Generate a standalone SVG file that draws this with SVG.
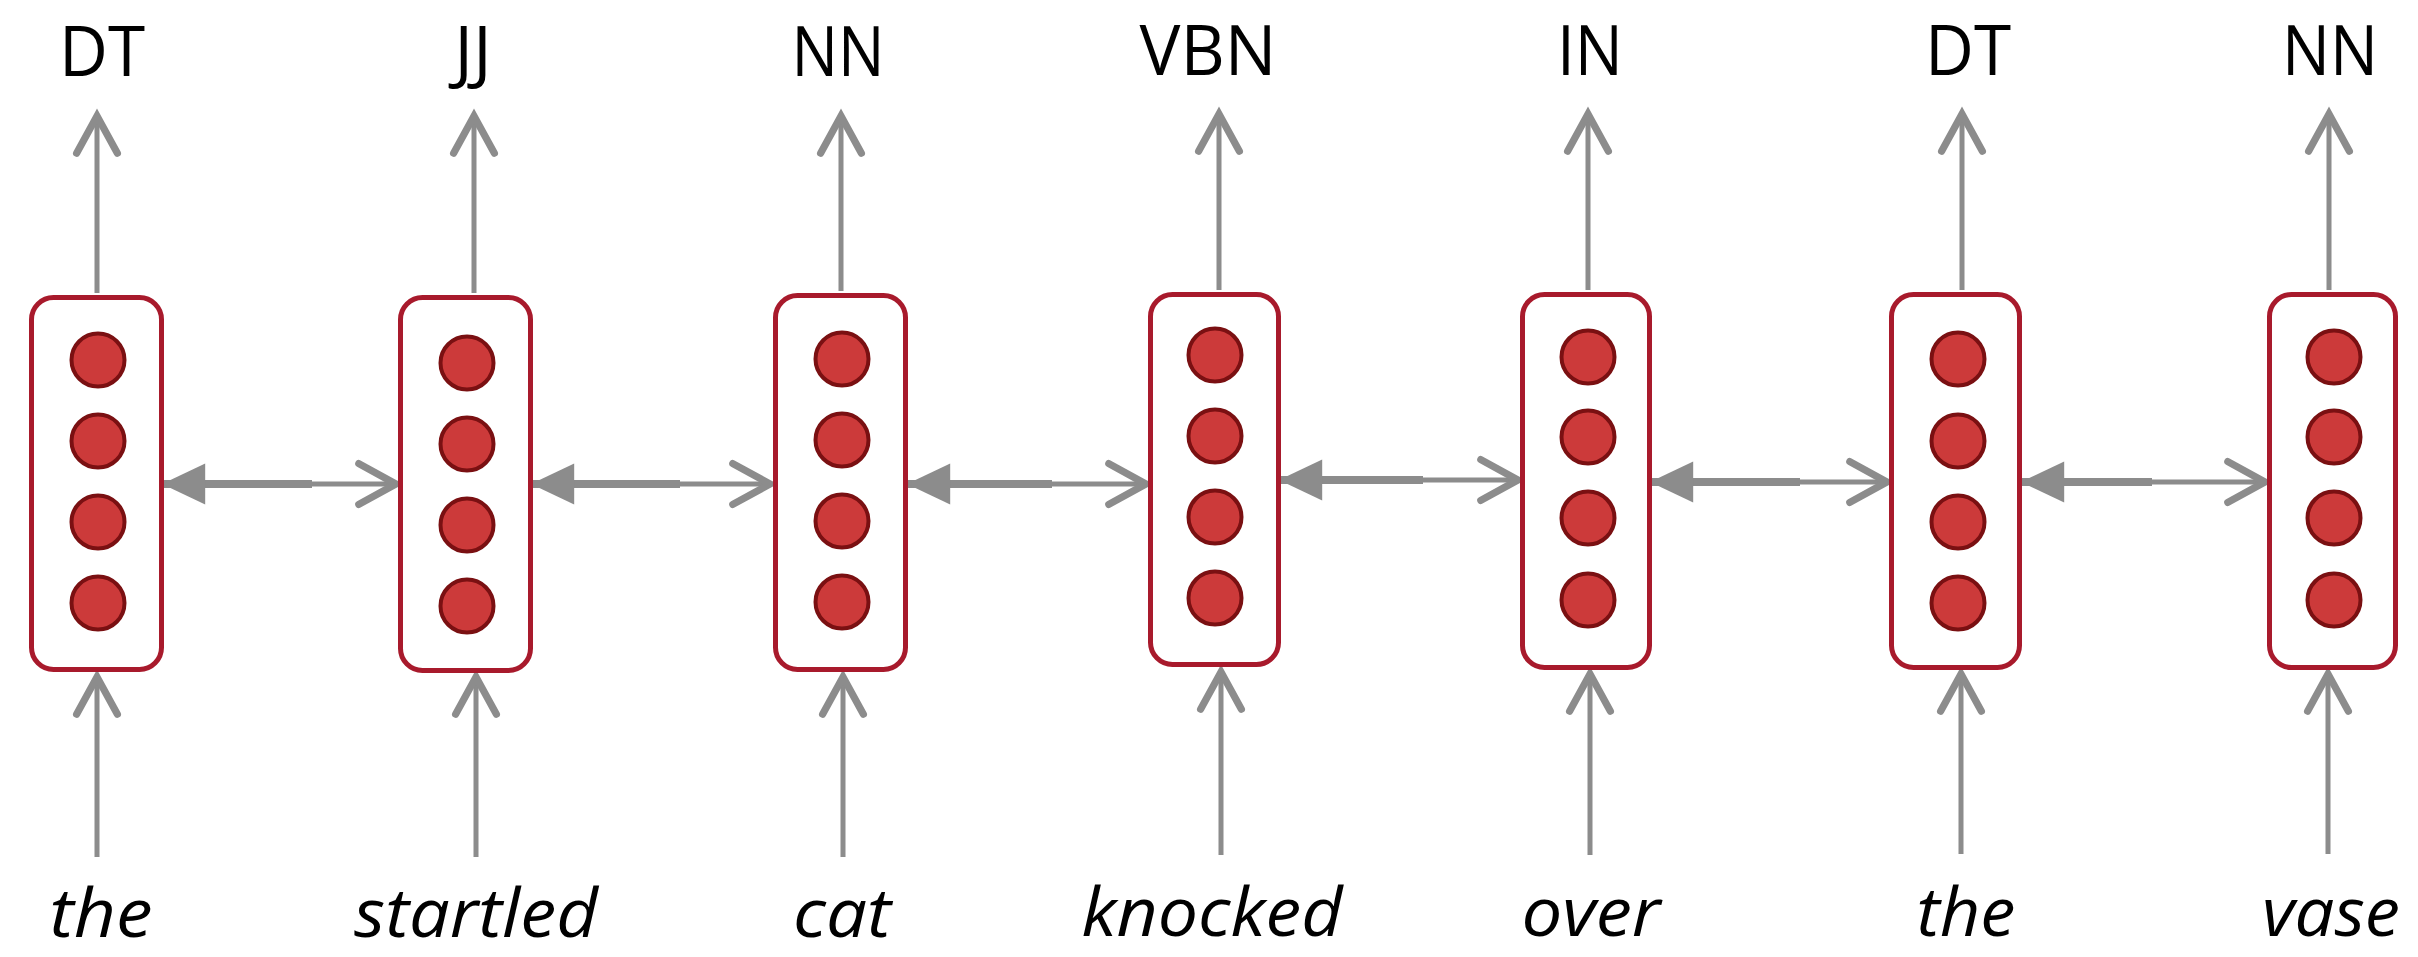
<svg xmlns="http://www.w3.org/2000/svg" width="2418" height="957" viewBox="0 0 2418 957">
<style>
.box{fill:#fff;stroke:#a81a2c;stroke-width:5}
.unit{fill:#cc3a3a;stroke:#7a1012;stroke-width:4}
.tag{font-family:"Open Sans","Liberation Sans",sans-serif;font-size:70px;fill:#000;text-anchor:middle}
.word{font-family:"Open Sans","Liberation Sans",sans-serif;font-size:68px;font-style:italic;fill:#000;text-anchor:middle}
.v{fill:none;stroke:#8c8c8c;stroke-width:5;marker-end:url(#open)}
.thick{fill:none;stroke:#8c8c8c;stroke-width:8;marker-start:url(#solid)}
.thin{fill:none;stroke:#8c8c8c;stroke-width:5;marker-end:url(#open)}
</style>
<defs>
<marker id="open" markerUnits="userSpaceOnUse" markerWidth="60" markerHeight="60" viewBox="-40 -25 50 50" refX="0" refY="0" orient="auto" overflow="visible">
<path d="M -31 -17 L 0 0 L -31 17" fill="none" stroke="#8c8c8c" stroke-width="6" stroke-linejoin="miter" stroke-linecap="round"/>
</marker>
<marker id="solid" markerUnits="userSpaceOnUse" markerWidth="60" markerHeight="60" viewBox="-40 -25 50 50" refX="0" refY="0" orient="auto-start-reverse" overflow="visible">
<path d="M 0 0 L -36 -17 L -36 17 Z" fill="#8c8c8c"/>
</marker>
</defs>
<rect width="2418" height="957" fill="#fff"/>

<g id="connectors">
<path class="v" d="M97 293 V116"/>
<path class="v" d="M474 293 V116"/>
<path class="v" d="M841 291 V116"/>
<path class="v" d="M1219 290 V114"/>
<path class="v" d="M1588 290 V114"/>
<path class="v" d="M1962 290 V114"/>
<path class="v" d="M2329 290 V114"/>

<path class="v" d="M97 857 V677"/>
<path class="v" d="M476 857 V677"/>
<path class="v" d="M843 857 V677"/>
<path class="v" d="M1221 855 V672"/>
<path class="v" d="M1590 855 V674"/>
<path class="v" d="M1961 854 V674"/>
<path class="v" d="M2328 854 V674"/>

<path class="thick" d="M162 484 H312"/><path class="thin" d="M312 484 H396"/>
<path class="thick" d="M531 484 H680"/><path class="thin" d="M680 484 H770"/>
<path class="thick" d="M907 484 H1052"/><path class="thin" d="M1052 484 H1146"/>
<path class="thick" d="M1279 480 H1423"/><path class="thin" d="M1423 480 H1518"/>
<path class="thick" d="M1650 482 H1800"/><path class="thin" d="M1800 482 H1887"/>
<path class="thick" d="M2021 482 H2152"/><path class="thin" d="M2152 482 H2265"/>
</g>

<g id="node1">
<rect class="box" x="31.5" y="297.5" width="130" height="372" rx="22"/>
<circle class="unit" cx="98" cy="360" r="26.5"/><circle class="unit" cx="98" cy="441" r="26.5"/><circle class="unit" cx="98" cy="522" r="26.5"/><circle class="unit" cx="98" cy="603" r="26.5"/>
<text class="tag" x="102" y="76" textLength="86" lengthAdjust="spacingAndGlyphs">DT</text>
<text class="word" x="101" y="937" textLength="103" lengthAdjust="spacingAndGlyphs">the</text>
</g>
<g id="node2">
<rect class="box" x="400.5" y="297.5" width="130" height="373" rx="22"/>
<circle class="unit" cx="467" cy="363" r="26.5"/><circle class="unit" cx="467" cy="444" r="26.5"/><circle class="unit" cx="467" cy="525" r="26.5"/><circle class="unit" cx="467" cy="606" r="26.5"/>
<text class="tag" x="473" y="76">JJ</text>
<text class="word" x="476" y="937" textLength="244" lengthAdjust="spacingAndGlyphs">startled</text>
</g>
<g id="node3">
<rect class="box" x="775.5" y="295.5" width="130" height="374" rx="22"/>
<circle class="unit" cx="842" cy="359" r="26.5"/><circle class="unit" cx="842" cy="440" r="26.5"/><circle class="unit" cx="842" cy="521" r="26.5"/><circle class="unit" cx="842" cy="602" r="26.5"/>
<text class="tag" x="838" y="76" textLength="93" lengthAdjust="spacingAndGlyphs">NN</text>
<text class="word" x="842" y="937" textLength="98" lengthAdjust="spacingAndGlyphs">cat</text>
</g>
<g id="node4">
<rect class="box" x="1150.5" y="294.5" width="128" height="370" rx="22"/>
<circle class="unit" cx="1215" cy="355" r="26.5"/><circle class="unit" cx="1215" cy="436" r="26.5"/><circle class="unit" cx="1215" cy="517" r="26.5"/><circle class="unit" cx="1215" cy="598" r="26.5"/>
<text class="tag" x="1208" y="75" textLength="137" lengthAdjust="spacingAndGlyphs">VBN</text>
<text class="word" x="1212" y="936" textLength="261" lengthAdjust="spacingAndGlyphs">knocked</text>
</g>
<g id="node5">
<rect class="box" x="1522.5" y="294.5" width="127" height="373" rx="22"/>
<circle class="unit" cx="1588" cy="357" r="26.5"/><circle class="unit" cx="1588" cy="437" r="26.5"/><circle class="unit" cx="1588" cy="518" r="26.5"/><circle class="unit" cx="1588" cy="600" r="26.5"/>
<text class="tag" x="1590" y="75" textLength="66" lengthAdjust="spacingAndGlyphs">IN</text>
<text class="word" x="1591" y="936" textLength="139" lengthAdjust="spacingAndGlyphs">over</text>
</g>
<g id="node6">
<rect class="box" x="1891.5" y="294.5" width="128" height="373" rx="22"/>
<circle class="unit" cx="1958" cy="359" r="26.5"/><circle class="unit" cx="1958" cy="441" r="26.5"/><circle class="unit" cx="1958" cy="522" r="26.5"/><circle class="unit" cx="1958" cy="603" r="26.5"/>
<text class="tag" x="1968" y="75" textLength="86" lengthAdjust="spacingAndGlyphs">DT</text>
<text class="word" x="1966" y="936" textLength="99" lengthAdjust="spacingAndGlyphs">the</text>
</g>
<g id="node7">
<rect class="box" x="2269.5" y="294.5" width="126" height="373" rx="22"/>
<circle class="unit" cx="2334" cy="357" r="26.5"/><circle class="unit" cx="2334" cy="437" r="26.5"/><circle class="unit" cx="2334" cy="518" r="26.5"/><circle class="unit" cx="2334" cy="600" r="26.5"/>
<text class="tag" x="2330" y="75" textLength="96" lengthAdjust="spacingAndGlyphs">NN</text>
<text class="word" x="2331" y="936" textLength="138" lengthAdjust="spacingAndGlyphs">vase</text>
</g>
</svg>
